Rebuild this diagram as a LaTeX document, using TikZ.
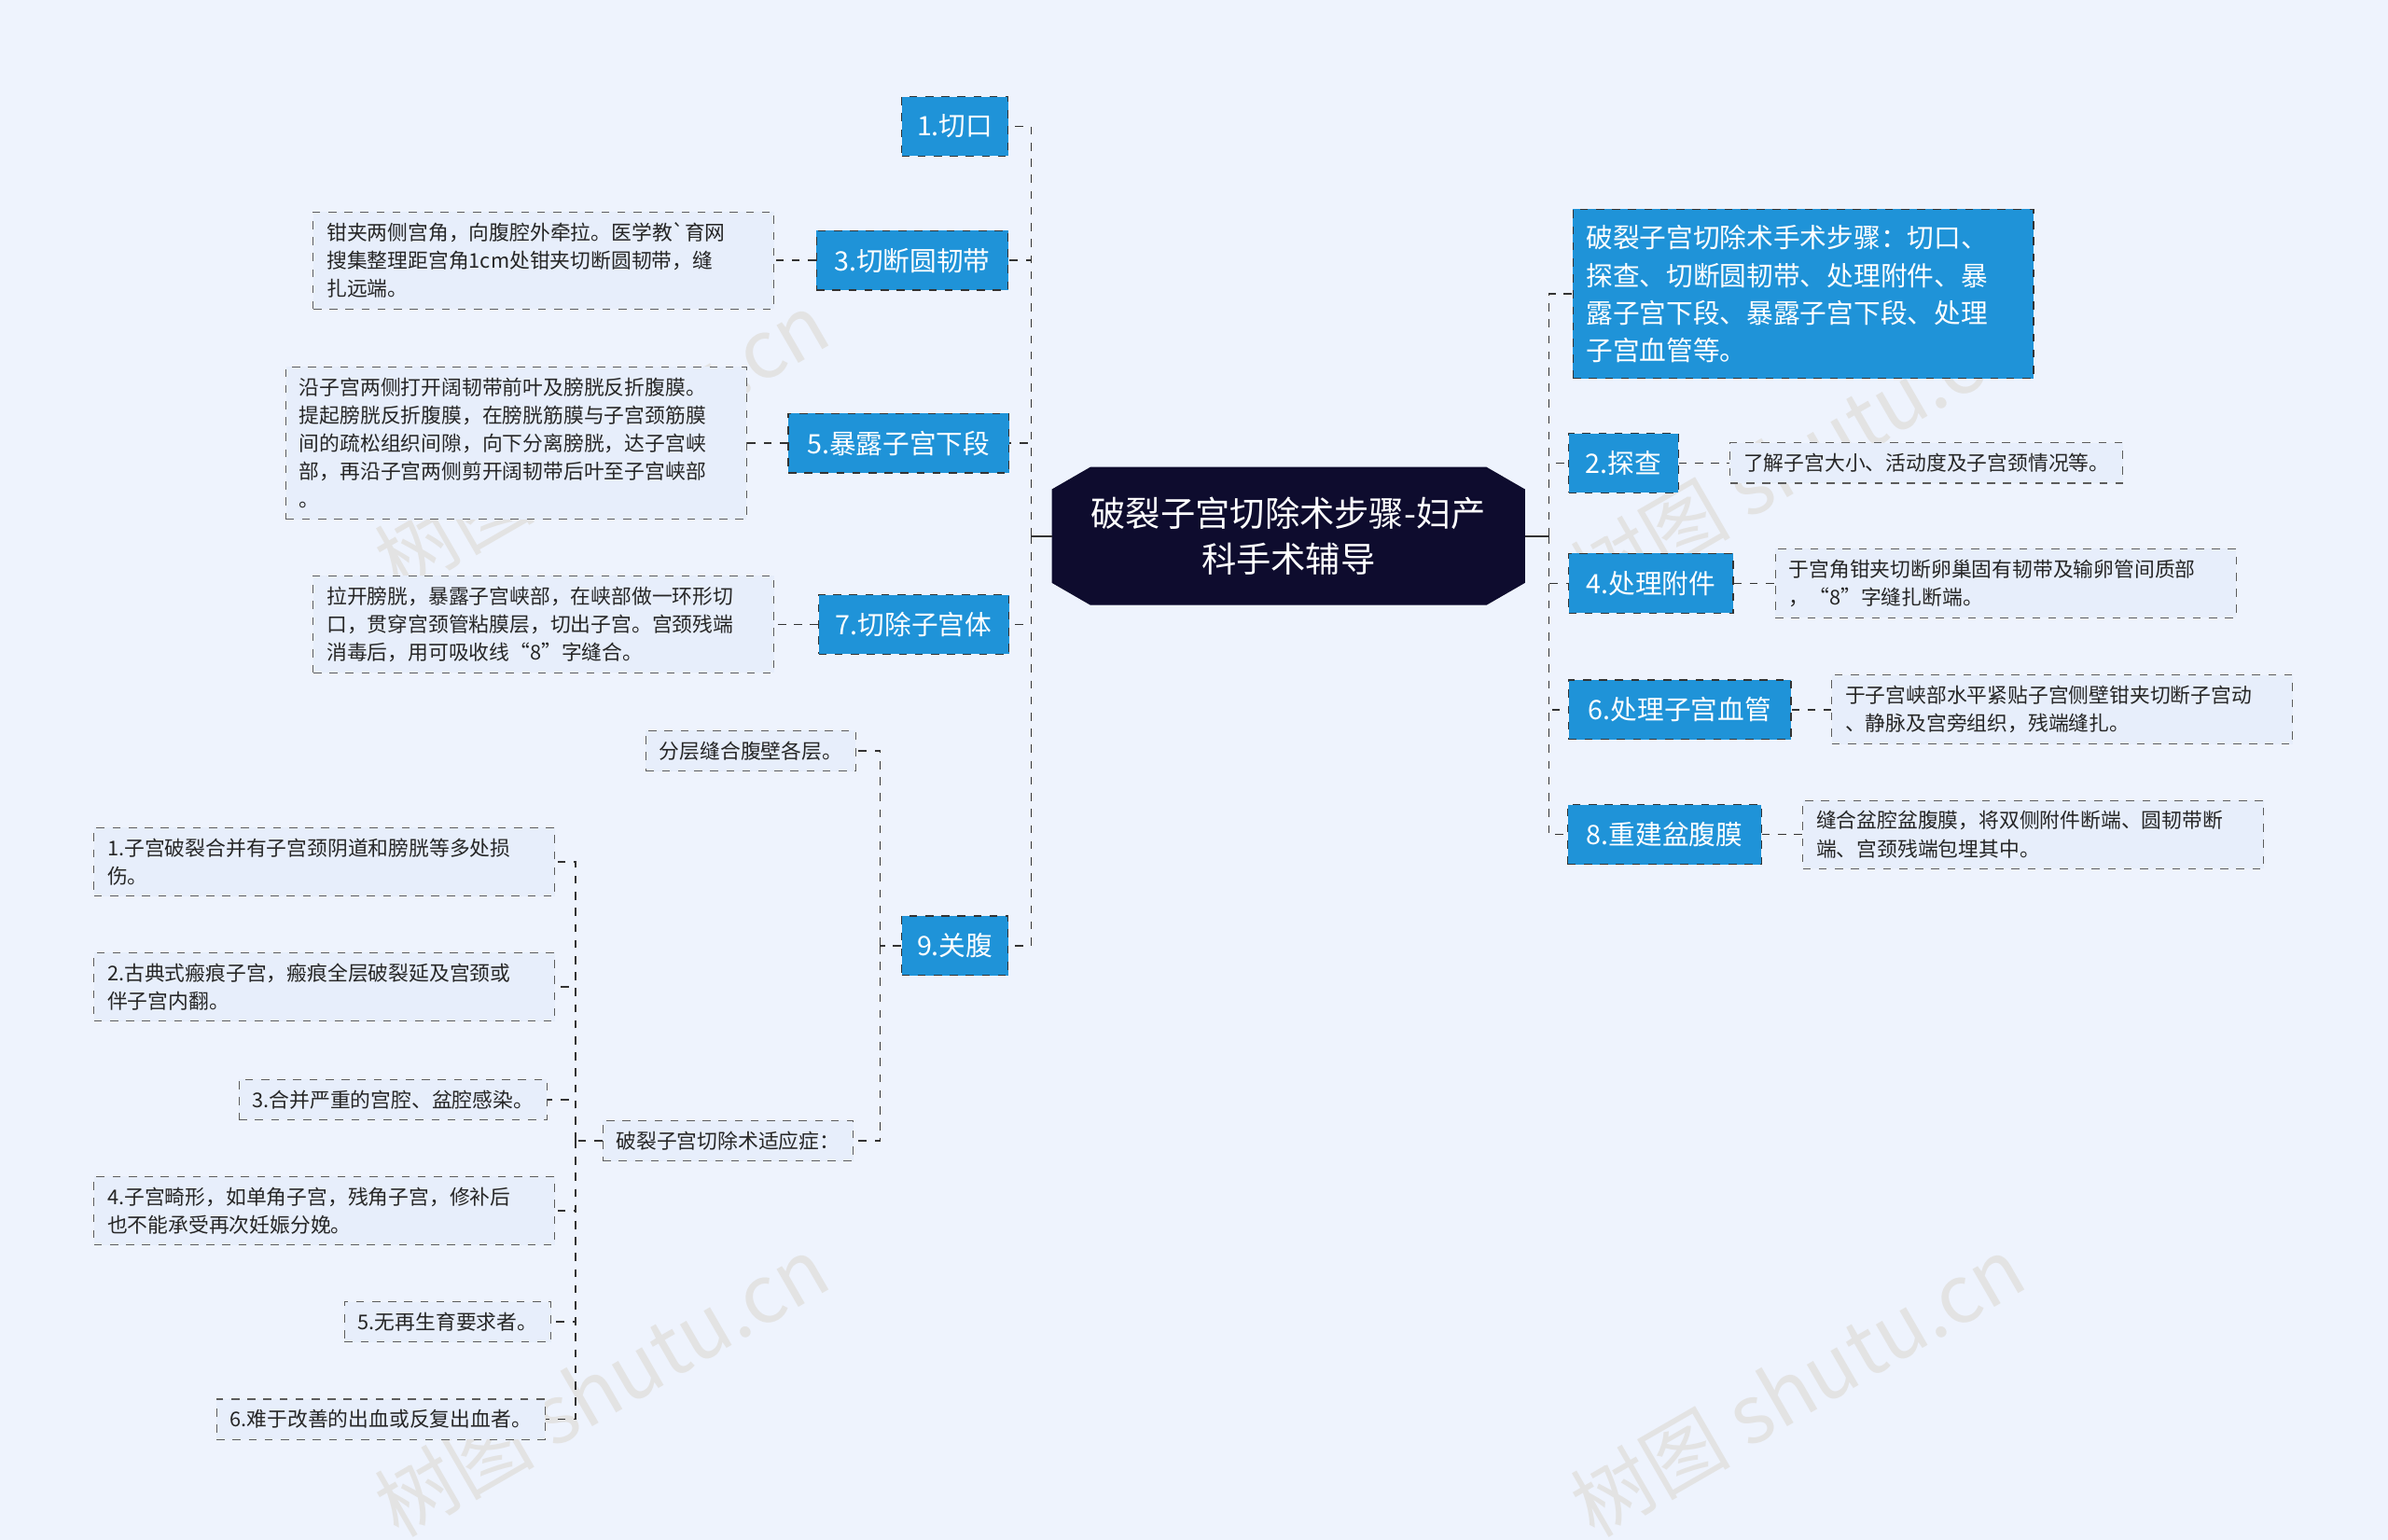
\documentclass[tikz,border=0pt]{standalone}
\usepackage{fontspec}
\setmainfont{Noto Sans CJK SC}
\usetikzlibrary{shapes.misc,calc}
\definecolor{bg}{HTML}{EEF3FD}
\definecolor{bluefill}{HTML}{1F93D8}
\definecolor{navy}{HTML}{0E0C2E}
\definecolor{leaffill}{HTML}{E7EEFB}
\definecolor{edge}{HTML}{333333}
\tikzset{
 x=0.02cm,y=-0.02cm,
 topic/.style={draw=edge,dashed,fill=bluefill,text=white,font=\fontsize{10}{12.5}\selectfont,inner sep=0pt,minimum height=0.78cm,align=left},
 leaf/.style={draw=edge!80,dashed,fill=leaffill,text=black!85,font=\fontsize{7.6}{10.5}\selectfont,inner xsep=5pt,inner ysep=4pt,align=left},
 conn/.style={draw=edge,dashed,line width=0.5pt},
 wm/.style={text=gray!22,font=\fontsize{30}{30}\selectfont,rotate=30}
}
\begin{document}
\begin{tikzpicture}
\fill[bg] (0,0) rectangle (1568,1011);
\useasboundingbox (0,0) rectangle (1568,1011);
\node[wm] at (395,290) {树图 shutu.cn};
\node[wm] at (1180,300) {树图 shutu.cn};
\node[wm] at (395,910) {树图 shutu.cn};
\node[wm] at (1180,910) {树图 shutu.cn};
% center
\node[chamfered rectangle,chamfered rectangle xsep=8pt,chamfered rectangle angle=60,fill=navy,draw=navy,text=white,font=\fontsize{13}{17}\selectfont,align=center,minimum width=6.2cm,minimum height=1.8cm,inner sep=2pt] (c) at (846,352) {破裂子宫切除术步骤-妇产\\科手术辅导};
% left topics
\node[topic,minimum width=1.4cm] (l1) at (627,83) {1.切口};
\node[topic,minimum width=2.52cm] (l3) at (599,171) {3.切断圆韧带};
\node[topic,minimum width=2.9cm] (l5) at (590,291) {5.暴露子宫下段};
\node[topic,minimum width=2.5cm] (l7) at (600,410) {7.切除子宫体};
\node[topic,minimum width=1.4cm] (l9) at (627,621) {9.关腹};
\coordinate (ls) at (677,352);
\draw[edge,line width=0.6pt] (c.west) -- (ls);
\foreach \n in {l1,l3,l5,l7,l9} \draw[conn] (ls) |- (\n.east);
% left leaves
\node[leaf,text width=5.7cm] (a3) at (357,171) {钳夹两侧宫角，向腹腔外牵拉。医学教\textasciigrave 育网\\搜集整理距宫角1cm处钳夹切断圆韧带，缝\\扎远端。};
\node[leaf,text width=5.7cm] (a5) at (339,291) {沿子宫两侧打开阔韧带前叶及膀胱反折腹膜。\\提起膀胱反折腹膜，在膀胱筋膜与子宫颈筋膜\\间的疏松组织间隙，向下分离膀胱，达子宫峡\\部，再沿子宫两侧剪开阔韧带后叶至子宫峡部\\。};
\node[leaf,text width=5.7cm] (a7) at (357,410) {拉开膀胱，暴露子宫峡部，在峡部做一环形切\\口，贯穿宫颈管粘膜层，切出子宫。宫颈残端\\消毒后，用可吸收线“8”字缝合。};
\draw[conn] (l3.west) -- (a3.east);
\draw[conn] (l5.west) -- (a5.east);
\draw[conn] (l7.west) -- (a7.east);
% 9 children
\node[leaf] (b1) at (493,493) {分层缝合腹壁各层。};
\node[leaf] (b2) at (478,749) {破裂子宫切除术适应症：};
\coordinate (s9) at (578,621);
\draw[conn] (l9.west) -- (s9);
\draw[conn] (s9) |- (b1.east);
\draw[conn] (s9) |- (b2.east);
\node[leaf,text width=5.7cm] (d1) at (213,566) {1.子宫破裂合并有子宫颈阴道和膀胱等多处损\\伤。};
\node[leaf,text width=5.7cm] (d2) at (213,648) {2.古典式瘢痕子宫，瘢痕全层破裂延及宫颈或\\伴子宫内翻。};
\node[leaf] (d3) at (258,722) {3.合并严重的宫腔、盆腔感染。};
\node[leaf,text width=5.7cm] (d4) at (213,795) {4.子宫畸形，如单角子宫，残角子宫，修补后\\也不能承受再次妊娠分娩。};
\node[leaf] (d5) at (294,868) {5.无再生育要求者。};
\node[leaf] (d6) at (250,932) {6.难于改善的出血或反复出血者。};
\coordinate (sd) at (378,749);
\draw[conn] (b2.west) -- (sd);
\foreach \n in {d1,d2,d3,d4,d5,d6} \draw[conn] (sd) |- (\n.east);
% right topics
\node[topic,text width=5.7cm,inner xsep=5pt,inner ysep=6pt,font=\fontsize{10}{14}\selectfont] (r0) at (1184,193) {破裂子宫切除术手术步骤：切口、\\探查、切断圆韧带、处理附件、暴\\露子宫下段、暴露子宫下段、处理\\子宫血管等。};
\node[topic,minimum width=1.44cm] (r2) at (1066,304) {2.探查};
\node[topic,minimum width=2.16cm] (r4) at (1084,383) {4.处理附件};
\node[topic,minimum width=2.92cm] (r6) at (1103,466) {6.处理子宫血管};
\node[topic,minimum width=2.54cm] (r8) at (1093,548) {8.重建盆腹膜};
\coordinate (rs) at (1017,352);
\draw[edge,line width=0.6pt] (c.east) -- (rs);
\foreach \n in {r0,r2,r4,r6,r8} \draw[conn] (rs) |- (\n.west);
\node[leaf] (e2) at (1265,304) {了解子宫大小、活动度及子宫颈情况等。};
\node[leaf,text width=5.7cm] (e4) at (1317,383) {于宫角钳夹切断卵巢固有韧带及输卵管间质部\\，“8”字缝扎断端。};
\node[leaf,text width=5.7cm] (e6) at (1354,466) {于子宫峡部水平紧贴子宫侧壁钳夹切断子宫动\\、静脉及宫旁组织，残端缝扎。};
\node[leaf,text width=5.7cm] (e8) at (1335,548) {缝合盆腔盆腹膜，将双侧附件断端、圆韧带断\\端、宫颈残端包埋其中。};
\draw[conn] (r2.east) -- (e2.west);
\draw[conn] (r4.east) -- (e4.west);
\draw[conn] (r6.east) -- (e6.west);
\draw[conn] (r8.east) -- (e8.west);
\end{tikzpicture}
\end{document}
